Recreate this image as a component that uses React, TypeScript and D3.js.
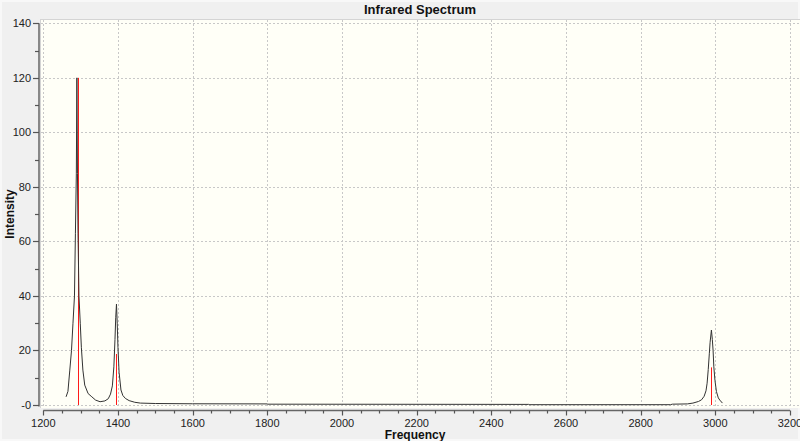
import { useEffect } from "react"
import * as d3 from "d3"

// spectrum curve (cm-1, intensity)
const curveFreq = [
  1261, 1266, 1271, 1275.5, 1279.5, 1283.5, 1286, 1288.5, 1290, 1291.5, 1293, 1295.5, 1299, 1302, 1306, 1311, 1320,
  1330, 1340, 1352, 1365, 1374, 1380, 1385, 1389, 1392, 1394, 1396, 1398, 1400, 1403, 1408, 1413, 1420, 1430,
  1445, 1460, 1500, 1600, 1800, 1801, 2000, 2500, 2501, 2880, 2885, 2925, 2940, 2955, 2963, 2970, 2975, 2978,
  2981, 2984, 2986, 2989.5, 2992, 2994, 2996, 2999, 3003, 3008, 3012, 3019,
]
const curveInt = [
  3.0, 5.0, 12.8, 20, 30, 40, 63, 85, 120, 85, 63, 40, 30, 21, 12.8, 7.3, 4.2,
  3.0, 1.8, 1.2, 1.5, 2.3, 4, 7, 14, 24, 32, 37, 30, 21, 12, 5.5, 3.5, 2.4, 1.6,
  1.0, 0.7, 0.55, 0.45, 0.4, 0.3, 0.28, 0.22, 0.12, 0.12, 0.3, 0.4, 0.7, 1.3, 1.9, 3.2, 5.2, 8,
  13, 19, 23, 27.5, 24, 20, 14, 9, 4.9, 2.6, 1.8, 0.7,
]

// stick spectrum (red lines)
const stickFreq = [1292, 1396, 2988]
const stickInt = [120, 18.7, 13.8]

const xTicks = [1200, 1400, 1600, 1800, 2000, 2200, 2400, 2600, 2800, 3000, 3200]
const yTicks = [0, 20, 40, 60, 80, 100, 120, 140]
const yTickLabels = ["-0", "20", "40", "60", "80", "100", "120", "140"]

const W = 800
const H = 441
const plot = { left: 40, top: 19, right: 800, bottom: 408 }
const font = "'Liberation Sans', Arial, sans-serif"

export default function App() {
  useEffect(() => {
    document.body.style.margin = "0"
  }, [])

  const x = d3.scaleLinear().domain([1200, 3200]).range([43.3, 790])
  const y = d3.scaleLinear().domain([0, 140]).range([405, 23.3])

  const line = d3
    .line<number>()
    .x((_, i) => x(curveFreq[i]))
    .y((d) => y(d))

  const xMinor = d3.range(1200, 3201, 50).filter((v) => v % 200 !== 0)
  const yMinor = d3.range(10, 140, 20)
  const axisY = 410.5
  const axisX = 39

  return (
    <svg width={W} height={H} style={{ display: "block" }}>
      <rect x={0} y={0} width={W} height={H} fill="#f0f0f0" />
      <rect x={1} y={1} width={W - 2} height={H - 2} fill="none" stroke="#f8f8f8" strokeWidth={2} />
      <text x={420} y={14} textAnchor="middle" fontFamily={font} fontSize={13} fontWeight="bold" fill="#111">
        Infrared Spectrum
      </text>

      <rect
        x={plot.left}
        y={plot.top}
        width={plot.right - plot.left}
        height={plot.bottom - plot.top}
        fill="#fffff7"
      />
      <line x1={plot.left} x2={plot.right} y1={plot.top + 0.5} y2={plot.top + 0.5} stroke="#d4d4d4" />
      <line x1={plot.left + 0.5} x2={plot.left + 0.5} y1={plot.top} y2={plot.bottom} stroke="#d4d4d4" />

      {xTicks.map((t) => (
        <line
          key={"gx" + t}
          x1={Math.round(x(t)) + 0.5}
          x2={Math.round(x(t)) + 0.5}
          y1={plot.top + 1}
          y2={plot.bottom}
          stroke="#c8c8c8"
          strokeDasharray="2,2"
        />
      ))}
      {yTicks.map((t) => (
        <line
          key={"gy" + t}
          x1={plot.left + 1}
          x2={plot.right}
          y1={Math.round(y(t)) + 0.5}
          y2={Math.round(y(t)) + 0.5}
          stroke="#c8c8c8"
          strokeDasharray="2,2"
        />
      ))}

      {stickFreq.map((f, i) => (
        <line
          key={"s" + f}
          x1={Math.round(x(f)) + 0.5}
          x2={Math.round(x(f)) + 0.5}
          y1={y(0)}
          y2={y(stickInt[i])}
          stroke="#ff1a1a"
          strokeWidth={1}
        />
      ))}
      <path d={line(curveInt) ?? ""} fill="none" stroke="#333" strokeWidth={1} />

      {/* y axis */}
      <line x1={axisX} x2={axisX} y1={y(140)} y2={y(0) + 1.5} stroke="#666" strokeWidth={1.5} />
      {yTicks.map((t, i) => (
        <g key={"yt" + t}>
          <line x1={axisX - 6} x2={axisX} y1={Math.round(y(t)) + 0.5} y2={Math.round(y(t)) + 0.5} stroke="#555" strokeWidth={1.2} />
          <text x={31} y={y(t) + 4} textAnchor="end" fontFamily={font} fontSize={11} fill="#222">
            {yTickLabels[i]}
          </text>
        </g>
      ))}
      {yMinor.map((t) => (
        <line key={"ym" + t} x1={axisX - 4} x2={axisX} y1={Math.round(y(t)) + 0.5} y2={Math.round(y(t)) + 0.5} stroke="#555" strokeWidth={1.2} />
      ))}

      {/* x axis */}
      <line x1={x(1200)} x2={x(3200)} y1={axisY} y2={axisY} stroke="#666" strokeWidth={1.5} />
      {xTicks.map((t) => (
        <g key={"xt" + t}>
          <line x1={Math.round(x(t)) + 0.5} x2={Math.round(x(t)) + 0.5} y1={axisY} y2={axisY + 5} stroke="#555" strokeWidth={1.2} />
          <text x={x(t)} y={427} textAnchor="middle" fontFamily={font} fontSize={11} fill="#222">
            {t}
          </text>
        </g>
      ))}
      {xMinor.map((t) => (
        <line key={"xm" + t} x1={Math.round(x(t)) + 0.5} x2={Math.round(x(t)) + 0.5} y1={axisY} y2={axisY + 3} stroke="#555" strokeWidth={1.2} />
      ))}

      <text x={415} y={439} textAnchor="middle" fontFamily={font} fontSize={12} fontWeight="bold" fill="#111">
        Frequency
      </text>
      <text
        transform={`translate(14,${214}) rotate(-90)`}
        textAnchor="middle"
        fontFamily={font}
        fontSize={12}
        fontWeight="bold"
        fill="#111"
      >
        Intensity
      </text>
    </svg>
  )
}
